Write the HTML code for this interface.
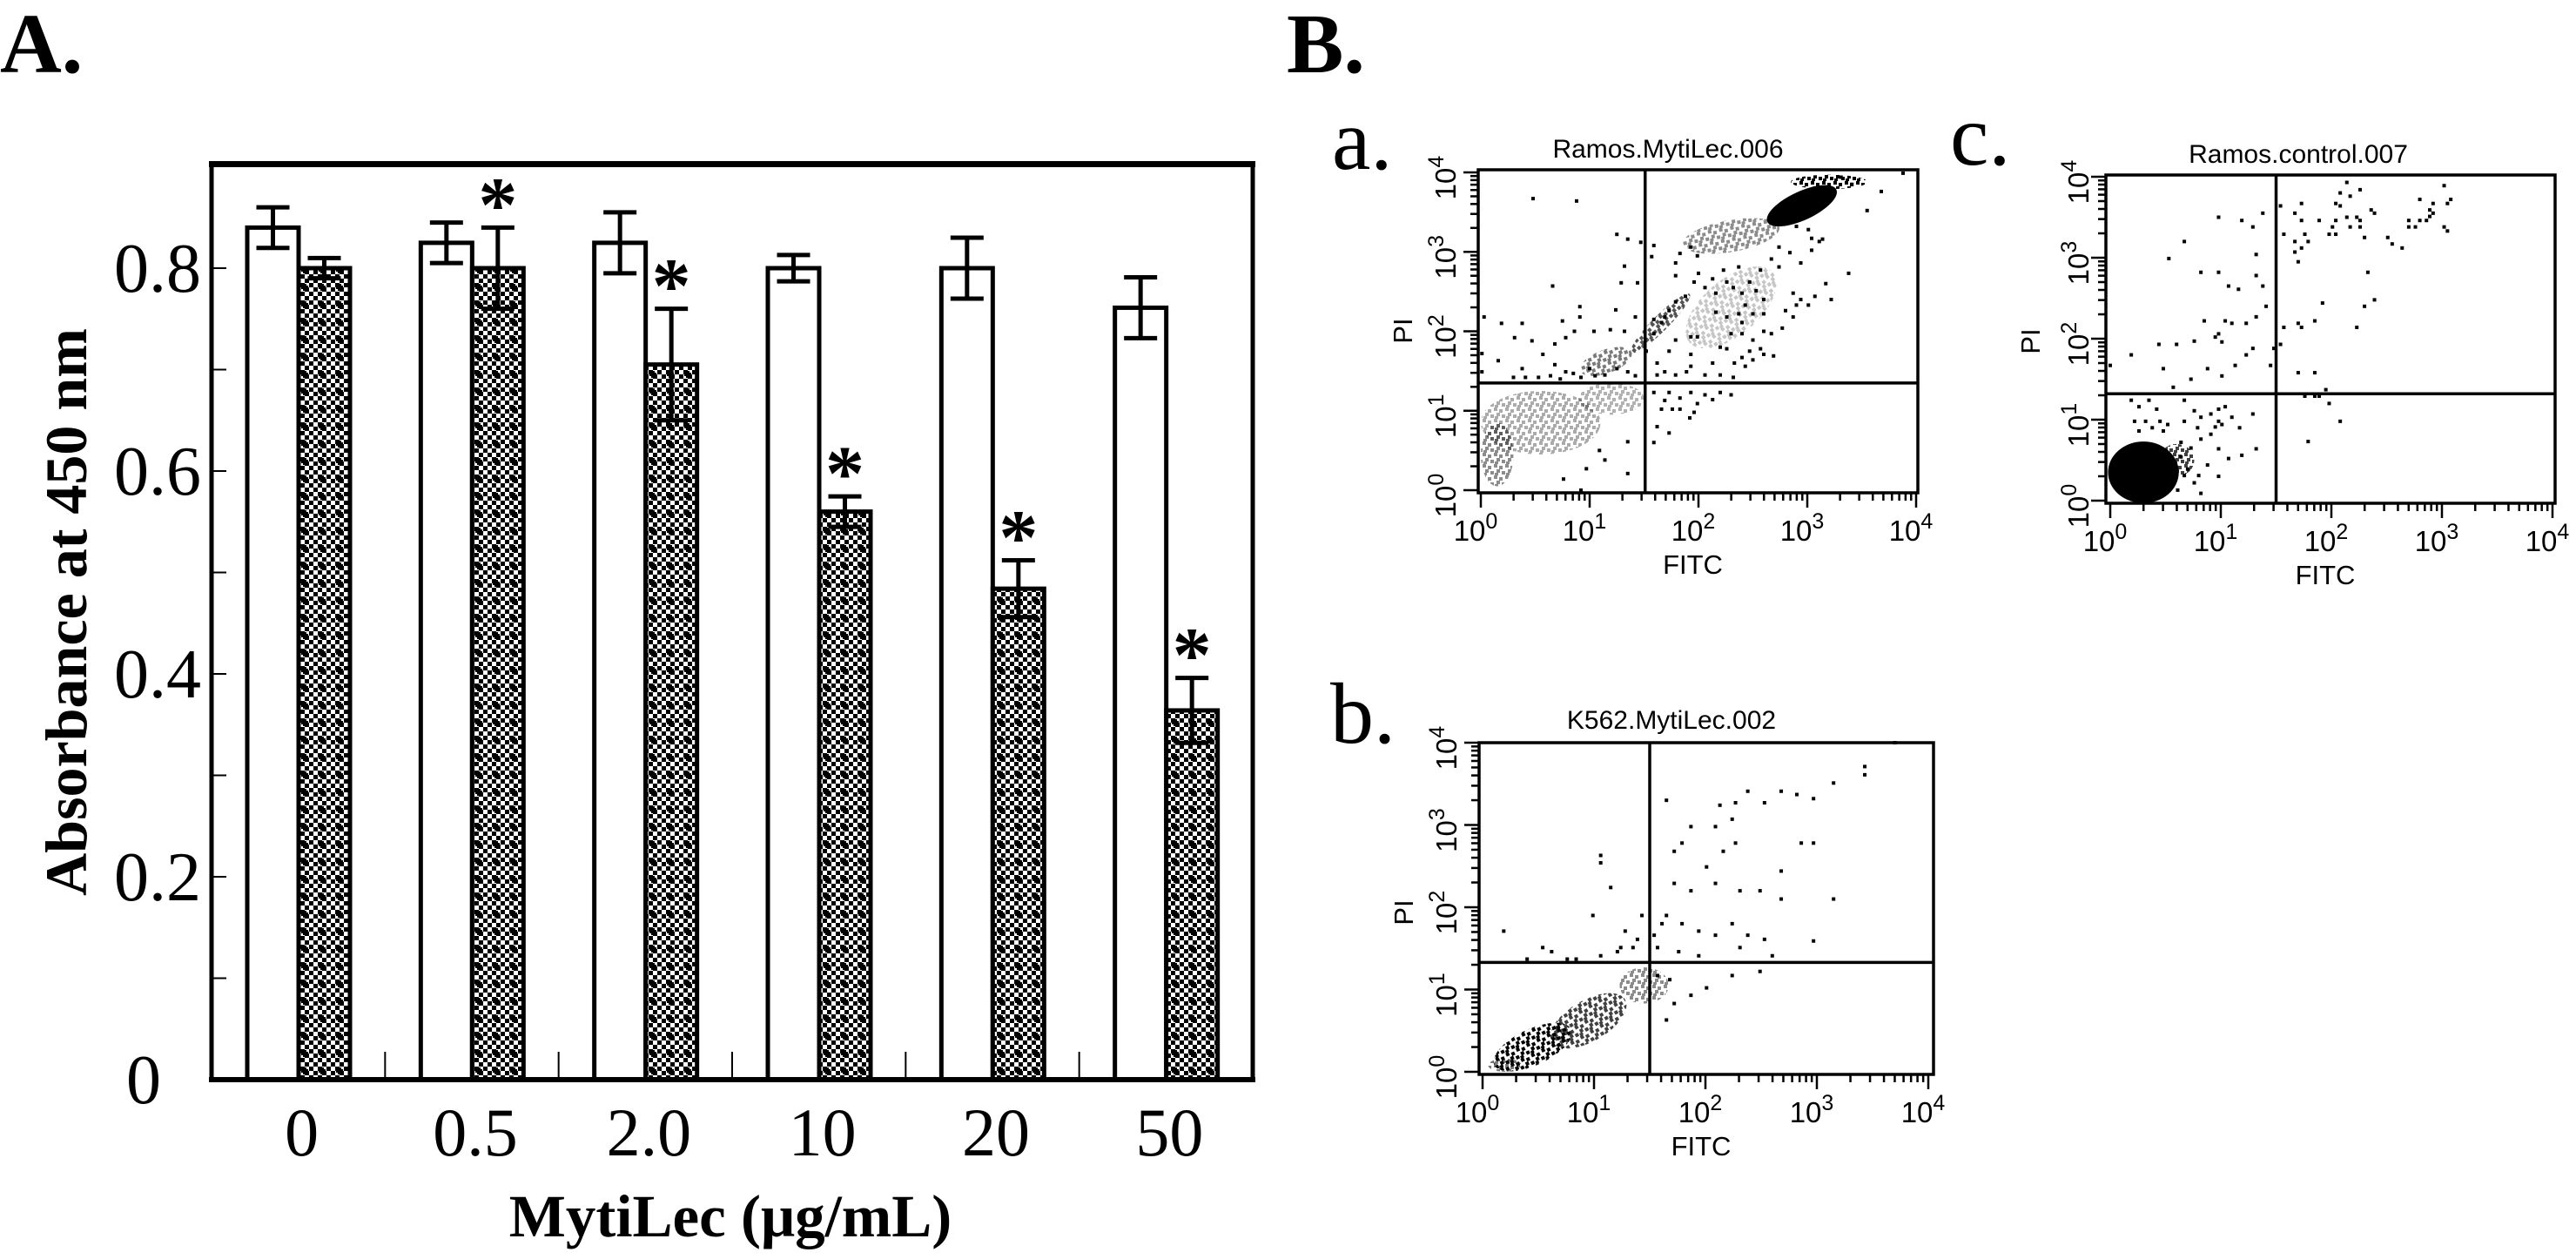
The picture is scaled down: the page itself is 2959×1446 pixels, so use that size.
<!DOCTYPE html>
<html><head><meta charset="utf-8">
<style>
html,body{margin:0;padding:0;background:#fff;}
svg{display:block;}
</style></head>
<body>
<svg id="fig" width="2959" height="1446" viewBox="0 0 2959 1446" xmlns="http://www.w3.org/2000/svg">
<defs>
<pattern id="hatch" width="20" height="20" patternUnits="userSpaceOnUse">
<rect width="20" height="20" fill="#fff"/>
<rect x="0" y="0" width="5" height="5" fill="#000"/><rect x="10" y="0" width="5" height="5" fill="#000"/>
<rect x="5" y="5" width="5" height="5" fill="#000"/><rect x="15" y="5" width="5" height="5" fill="#000"/>
<rect x="0" y="10" width="5" height="5" fill="#000"/><rect x="10" y="10" width="5" height="5" fill="#000"/>
<rect x="5" y="15" width="5" height="5" fill="#000"/><rect x="15" y="15" width="5" height="5" fill="#000"/>
<rect x="8" y="6" width="4" height="8" fill="#000"/><rect x="6" y="8" width="8" height="4" fill="#000"/>
</pattern>
<pattern id="speck" width="13" height="13" patternUnits="userSpaceOnUse">
<rect x="0" y="0" width="4" height="4" fill="#000"/><rect x="6" y="2" width="4" height="4" fill="#000"/>
<rect x="3" y="6" width="4" height="4" fill="#000"/><rect x="9" y="8" width="4" height="4" fill="#000"/>
<rect x="1" y="10" width="4" height="3" fill="#000"/>
</pattern>
</defs>
<text x="0" y="83" font-family="Liberation Serif, serif" font-weight="bold" font-size="98">A.</text>
<text x="1478" y="83" font-family="Liberation Serif, serif" font-weight="bold" font-size="98">B.</text>
<g id="barchart"></g>
<g id="flowA"></g>
<g id="flowB"></g>
<g id="flowC"></g>
</svg>
<script>
// ---- Bar chart data ----
const categories = ["0","0.5","2.0","10","20","50"];
const controlValues = [0.84,0.825,0.825,0.80,0.80,0.761];
const controlErrors = [0.02,0.02,0.03,0.013,0.03,0.03];
const treatedValues = [0.80,0.80,0.705,0.56,0.484,0.364];
const treatedErrors = [0.01,0.04,0.055,0.015,0.028,0.032];
const significant = [false,true,true,true,true,true];
const yTickValues = [0,0.2,0.4,0.6,0.8];
const yTickLabels = ["0","0.2","0.4","0.6","0.8"];

// ---- Flow cytometry data (log10 FITC, log10 PI) ----
const aPoints = [[0.48,3.67],[0.88,3.64],[1.25,3.22],[1.35,3.16],[1.47,3.12],[1.32,2.82],[1.29,2.61],[1.44,2.61],[0.66,2.57],[0.91,2.31],[1.24,2.27],[0.03,2.18],[0.19,2.10],[0.38,2.10],[0.75,2.13],[0.91,2.18],[1.42,2.18],[0.31,1.92],[0.47,1.88],[0.68,1.84],[0.78,1.92],[0.86,2.0],[1.04,2.0],[1.19,2.02],[1.32,2.0],[0.57,1.71],[0.16,1.63],[0.01,1.72],[0.01,1.49],[0.38,1.53],[0.68,1.58],[0.78,1.49],[0.30,1.42],[0.41,1.42],[0.53,1.42],[0.64,1.44],[0.73,1.40],[0.85,1.47],[0.92,1.42],[1.0,1.53],[1.05,1.44],[1.14,1.45],[1.25,1.53],[1.35,1.49],[1.42,1.44],
[1.52,1.75],[1.59,1.97],[1.66,2.11],[1.73,2.26],[1.79,2.37],[1.88,2.44],[1.59,2.15],[1.69,2.18],
[1.59,3.08],[1.57,2.94],[1.79,2.70],[1.79,2.86],[1.83,2.98],[1.93,3.06],[1.99,2.95],[2.0,2.73],[1.96,2.62],[2.06,2.55],[2.13,2.66],[2.16,2.48],[2.23,2.77],[2.26,2.62],[2.32,2.55],[2.37,2.81],[2.40,2.48],[2.43,2.33],[2.47,2.62],[2.53,2.51],[2.60,2.40],[2.57,2.77],[2.67,2.91],[2.74,2.81],[2.84,2.99],[2.94,2.86],[3.04,3.02],[3.14,3.16],[2.74,3.06],[3.17,2.60],[3.22,2.40],[3.07,2.44],[2.87,2.48],[2.90,2.33],[2.80,2.26],[2.87,2.18],[2.77,2.04],[2.67,1.97],[2.60,2.0],[2.57,1.78],[2.50,1.89],[2.47,1.75],[2.40,1.67],[2.33,1.60],[2.43,1.56],[2.50,1.64],[2.60,1.71],[2.69,1.69],[2.26,1.78],[2.20,1.80],[2.30,1.97],[2.40,1.97],[2.40,2.11],[2.26,2.18],[2.16,2.24],[2.37,2.22],[2.50,2.22],[2.60,2.22],[2.13,1.60],[2.20,1.45],[2.06,1.45],[1.93,1.56],[1.93,1.71],[1.99,1.93],[1.93,1.93],[1.79,1.89],[1.73,1.75],[1.62,1.60],[1.69,1.49],[1.79,1.45],[1.89,1.49],[1.62,1.45],[2.32,1.42],[2.94,2.40],[3.01,2.33],[3.38,2.73],[3.55,3.52],[3.68,3.76],[3.88,3.99],[3.31,3.94],[3.41,3.85],[3.04,3.17],[3.11,3.13],[3.01,3.28],[2.90,3.32],
[1.59,1.23],[1.69,1.13],[1.73,1.23],[1.83,1.16],[1.93,1.23],[1.99,1.09],[2.06,1.20],[2.20,1.23],[2.30,1.20],[1.92,0.91],[1.73,0.72],[1.62,0.80],[1.59,0.60],[1.76,1.02],[1.66,1.02],[1.83,1.02],[2.13,1.14],[1.96,0.98],
[0.97,0.27],[1.35,0.21],[0.76,0.14],[1.14,0.38],[0.92,0.0],[1.35,0.61],[1.09,0.50]];
const aDense = [[2.95,3.58,0.35,0.18,-25,0.85],[3.2,3.88,0.35,0.09,0,0.7],[2.3,3.2,0.45,0.2,-10,0.3],[1.65,2.1,0.38,0.1,-45,0.45],[1.15,1.62,0.25,0.15,-20,0.35],[2.3,2.3,0.5,0.35,-40,0.15],[0.55,0.85,0.55,0.4,0,0.22],[0.15,0.45,0.15,0.4,0,0.3],[1.2,1.15,0.3,0.2,0,0.2]];

const bPoints = [[3.7,4.0],[3.43,3.71],[3.43,3.61],[3.15,3.51],[2.97,3.32],[2.82,3.37],[2.68,3.41],[2.53,3.27],[2.38,3.41],[2.27,3.27],[2.13,3.24],[2.24,3.07],[2.09,2.98],[1.87,2.98],[1.65,3.30],[1.79,2.78],[2.16,2.68],[2.01,2.49],[2.27,2.78],[2.86,2.78],[2.97,2.78],[2.68,2.44],[2.49,2.20],[2.68,2.10],[3.15,2.10],[2.31,2.20],[2.09,2.29],[1.87,2.20],[1.72,2.29],[1.65,1.90],[1.79,1.80],[1.94,1.71],[2.09,1.66],[2.24,1.80],[2.38,1.66],[2.53,1.61],[2.31,1.51],[2.97,1.59],[1.72,2.68],[1.61,1.80],[1.54,1.66],[1.57,1.51],[1.76,1.46],[1.94,1.41],[2.60,1.41],[2.49,1.22],[2.24,1.17],[2.01,1.02],[1.72,0.83],[1.65,0.63],[1.87,0.93],[1.57,1.17],[1.68,1.12],
[1.06,2.63],[1.06,2.54],[1.15,2.24],[0.19,1.71],[1.28,1.71],[1.35,1.51],[1.21,1.46],[0.54,1.51],[0.62,1.46],[0.99,1.90],[1.43,1.90],[1.39,1.61],[1.24,1.51],[0.76,1.37],[0.40,1.37],[0.84,1.37],[1.06,1.41]];
const bDense = [[0.45,0.3,0.38,0.22,-25,0.7],[0.95,0.62,0.38,0.25,-30,0.5],[1.45,1.05,0.22,0.22,0,0.3],[0.2,0.08,0.15,0.08,0,0.35]];

const cPoints = [[0.98,3.50],[1.19,3.46],[1.29,3.38],[1.38,3.55],[0.67,3.20],[0.53,2.99],[1.32,3.04],[0.82,2.82],[0.98,2.82],[1.32,2.78],[1.07,2.65],[1.16,2.61],[1.38,2.65],[1.41,2.40],[1.32,2.27],[0.85,2.22],[1.04,2.22],[1.10,2.19],[1.23,2.19],[0.95,2.02],[0.98,2.06],[1.01,1.96],[0.76,1.97],[0.60,1.93],[0.44,1.93],[0.19,1.80],[1.23,1.80],[1.29,1.88],[1.48,1.88],[0.48,1.63],[0.88,1.63],[1.13,1.67],[1.45,1.67],[1.01,1.54],[0.73,1.50],[0.57,1.40],[0.00,1.67],
[1.54,3.64],[1.73,3.67],[1.67,3.55],[1.73,3.46],[1.89,3.46],[1.57,3.29],[1.76,3.29],[1.67,3.20],[1.79,3.20],[1.73,3.12],[1.67,3.07],[1.70,2.95],[2.04,3.67],[2.08,3.80],[2.14,3.93],[2.17,3.76],[2.26,3.84],[2.08,3.64],[2.04,3.46],[2.01,3.38],[1.98,3.29],[2.04,3.29],[2.14,3.50],[2.17,3.38],[2.23,3.50],[2.26,3.46],[2.26,3.38],[2.30,3.25],[2.36,3.59],[2.39,3.55],[2.51,3.25],[2.55,3.17],[2.64,3.12],[2.70,3.46],[2.70,3.38],[2.76,3.38],[2.80,3.46],[2.80,3.72],[2.86,3.46],[2.89,3.51],[2.89,3.59],[2.92,3.67],[2.92,3.55],[3.02,3.89],[3.05,3.67],[3.08,3.72],[3.02,3.38],[3.05,3.33],[2.33,2.82],[2.39,2.48],[2.30,2.40],[1.92,2.44],[1.85,2.22],[1.70,2.19],[1.73,2.14],[1.57,2.14],[2.23,2.14],[1.54,1.93],[1.70,1.58],[1.85,1.58],[1.95,1.37],[1.76,1.29],[1.85,1.29],[1.89,1.29],[1.98,1.20],[2.08,0.98],[1.79,0.73],
[0.19,1.24],[0.26,1.16],[0.35,1.24],[0.42,1.13],[0.67,1.24],[0.76,1.11],[0.82,1.03],[0.91,1.07],[0.98,1.13],[1.04,1.16],[1.10,1.03],[1.29,1.07],[0.22,0.98],[0.32,0.98],[0.45,0.98],[0.52,0.94],[0.67,0.98],[0.98,0.98],[1.01,0.94],[0.95,0.91],[1.17,0.90],[0.26,0.86],[0.38,0.90],[0.48,0.86],[0.79,0.90],[0.91,0.82],[0.98,0.64],[1.07,0.52],[1.19,0.56],[1.32,0.64],[0.98,0.30],[0.82,0.09],[0.38,0.04],
[0.64,0.72],[0.73,0.65],[0.82,0.76],[0.88,0.44],[0.67,0.31],[0.76,0.22],[0.61,0.13],[0.70,0.39],[0.80,0.31],[0.64,0.54]];
const cDense = [[0.3,0.35,0.32,0.38,0,0.95],[0.6,0.5,0.16,0.2,0,0.5]];

const xTickExps = [0,1,2,3,4];
const yTickExps = [0,1,2,3,4];

const NS = "http://www.w3.org/2000/svg";
function mk(tag, attrs, parent){
  const e = document.createElementNS(NS, tag);
  for (const k in attrs) e.setAttribute(k, attrs[k]);
  parent.appendChild(e);
  return e;
}

// ---------- Bar chart ----------
(function(){
  const g = document.getElementById('barchart');
  const L = 243, R = 1439, B = 1240, perUnit = 1165;
  const yScale = v => B - v * perUnit;
  const groupW = (R - L) / categories.length;
  const gx = i => L + i * groupW;
  const barW = 59;

  for (let k = 1; k <= 8; k++) {
    const t = mk('line', {x1: L, x2: L + 17, y1: yScale(k / 10), y2: yScale(k / 10), stroke: '#000', 'stroke-width': 2}, g);
    
    
  }
  for (let i = 1; i < categories.length; i++) {
    const t = mk('line', {x1: gx(i), x2: gx(i), y1: B, y2: B - 32, stroke: '#000', 'stroke-width': 2}, g);
    
    
  }
  yTickValues.forEach((v, i) => {
    const isZero = v === 0;
    const t = mk('text', {x: isZero ? 165 : 231, y: yScale(v) + 27, 'text-anchor': isZero ? 'middle' : 'end', 'font-family': 'Liberation Serif, serif', 'font-size': 80}, g);
    t.textContent = yTickLabels[i];
    
    
  });

  categories.forEach((c, i) => {
    const x0 = gx(i) + 41;
    const wTop = yScale(controlValues[i]);
    const wb = mk('rect', {x: x0, y: wTop, width: barW, height: B - wTop, fill: '#fff', stroke: '#000', 'stroke-width': 5}, g);
    
    
    const hTop = yScale(treatedValues[i]);
    const hb = mk('rect', {x: x0 + barW, y: hTop, width: barW, height: B - hTop, fill: 'url(#hatch)', stroke: '#000', 'stroke-width': 5}, g);
    
    
    [[x0 + barW / 2, controlValues[i], controlErrors[i], 'control'], [x0 + barW * 1.5, treatedValues[i], treatedErrors[i], 'mytilec']].forEach(([cx, v, e, nm]) => {
      const eg = mk('g', {stroke: '#000', 'stroke-width': 5}, g);
      
      
      mk('line', {x1: cx, x2: cx, y1: yScale(v + e), y2: yScale(v - e)}, eg);
      mk('line', {x1: cx - 19, x2: cx + 19, y1: yScale(v + e), y2: yScale(v + e)}, eg);
      mk('line', {x1: cx - 19, x2: cx + 19, y1: yScale(v - e), y2: yScale(v - e)}, eg);
    });
    if (significant[i]) {
      const s = mk('text', {x: x0 + barW * 1.5, y: yScale(treatedValues[i] + treatedErrors[i]) + 4, 'text-anchor': 'middle', 'font-family': 'Liberation Serif, serif', 'font-weight': 'bold', 'font-size': 90}, g);
      s.textContent = '*';
      
      
    }
    const xl = mk('text', {x: gx(i) + groupW / 2 + 4, y: 1327, 'text-anchor': 'middle', 'font-family': 'Liberation Serif, serif', 'font-size': 78}, g);
    xl.textContent = c;
    
    
  });

  const fr = mk('g', {stroke: '#000', fill: 'none'}, g);
  
  
  mk('line', {x1: 240, x2: 1442, y1: 188.5, y2: 188.5, 'stroke-width': 7}, fr);
  mk('line', {x1: 240, x2: 1442, y1: 1240, y2: 1240, 'stroke-width': 6}, fr);
  mk('line', {x1: 243, x2: 243, y1: 186, y2: 1243, 'stroke-width': 5}, fr);
  mk('line', {x1: 1439, x2: 1439, y1: 186, y2: 1243, 'stroke-width': 5}, fr);

  const yt = mk('text', {x: 0, y: 0, transform: 'translate(99,703) rotate(-90)', 'text-anchor': 'middle', 'font-family': 'Liberation Serif, serif', 'font-weight': 'bold', 'font-size': 68}, g);
  yt.textContent = 'Absorbance at 450 nm';
  
  
  const xt = mk('text', {x: 839, y: 1420, 'text-anchor': 'middle', 'font-family': 'Liberation Serif, serif', 'font-weight': 'bold', 'font-size': 69}, g);
  xt.textContent = 'MytiLec (\u03bcg/mL)';
  
  
})();

// ---------- Flow plots ----------
function flowPlot(id, cfg, points, dense) {
  const g = document.getElementById(id);
  const sx = v => cfg.x0 + v * cfg.xd;
  const sy = v => cfg.y0 - v * cfg.yd;
  const [bl, bt, br, bb] = cfg.box;

  dense.forEach(d => {
    const op = Math.min(1, d[5] * 1.5);
    const fill = d[5] > 0.8 ? '#000' : 'url(#speck)';
    const e = mk('ellipse', {cx: sx(d[0]), cy: sy(d[1]), rx: d[2] * cfg.xd, ry: d[3] * cfg.yd, fill: fill, 'fill-opacity': op, transform: 'rotate(' + d[4] + ' ' + sx(d[0]) + ' ' + sy(d[1]) + ')'}, g);
    
    
  });
  points.forEach(p => {
    const r = mk('rect', {x: sx(p[0]) - 2, y: sy(p[1]) - 2, width: 4, height: 4, fill: '#000'}, g);
    
    
  });

  const fr = mk('rect', {x: bl, y: bt, width: br - bl, height: bb - bt, fill: 'none', stroke: '#000', 'stroke-width': 3.5}, g);
  
  

  const q1 = mk('line', {x1: sx(cfg.qx), x2: sx(cfg.qx), y1: bt, y2: bb, stroke: '#000', 'stroke-width': 3.5}, g);
  
  
  const q2 = mk('line', {x1: bl, x2: br, y1: sy(cfg.qy), y2: sy(cfg.qy), stroke: '#000', 'stroke-width': 3.5}, g);
  
  

  for (let d = 0; d < 4; d++) {
    for (let m = 1; m <= 9; m++) {
      const lv = d + Math.log10(m);
      const major = m === 1;
      const tx = mk('line', {x1: sx(lv), x2: sx(lv), y1: bb, y2: bb + (major ? 17 : 9), stroke: '#000', 'stroke-width': 2.5}, g);
      
      
      const ty = mk('line', {x1: bl, x2: bl - (major ? 17 : 9), y1: sy(lv), y2: sy(lv), stroke: '#000', 'stroke-width': 2.5}, g);
      
      
    }
  }
  const endX = mk('line', {x1: sx(4), x2: sx(4), y1: bb, y2: bb + 17, stroke: '#000', 'stroke-width': 2.5}, g);
  
  
  const endY = mk('line', {x1: bl, x2: bl - 17, y1: sy(4), y2: sy(4), stroke: '#000', 'stroke-width': 2.5}, g);
  
  

  xTickExps.forEach(e => {
    const t = mk('text', {x: sx(e) - 6, y: bb + 55, 'text-anchor': 'middle', 'font-family': 'Liberation Sans, sans-serif', 'font-size': 33}, g);
    
    
    t.textContent = '10';
    const s = mk('tspan', {'font-size': 25, dy: -14}, t);
    s.textContent = String(e);
  });
  yTickExps.forEach(e => {
    const t = mk('text', {x: 0, y: 0, transform: 'translate(' + (bl - cfg.ylab) + ',' + (sy(e) + 6) + ') rotate(-90)', 'text-anchor': 'middle', 'font-family': 'Liberation Sans, sans-serif', 'font-size': 33}, g);
    
    
    t.textContent = '10';
    const s = mk('tspan', {'font-size': 25, dy: -14}, t);
    s.textContent = String(e);
  });

  const ft = mk('text', {x: (bl + br) / 2 - 6, y: bb + 93, 'text-anchor': 'middle', 'font-family': 'Liberation Sans, sans-serif', 'font-size': 31}, g);
  ft.textContent = 'FITC';
  
  
  const pt = mk('text', {x: 0, y: 0, transform: 'translate(' + (bl - 76) + ',' + cfg.piY + ') rotate(-90)', 'text-anchor': 'middle', 'font-family': 'Liberation Sans, sans-serif', 'font-size': 31}, g);
  pt.textContent = 'PI';
  
  
  const tt = mk('text', {x: cfg.titleX, y: cfg.titleY, 'text-anchor': 'middle', 'font-family': 'Liberation Sans, sans-serif', 'font-size': 30}, g);
  tt.textContent = cfg.title;
  
  
  const lt = mk('text', {x: cfg.letterX, y: cfg.letterY, 'font-family': 'Liberation Serif, serif', 'font-size': 100}, g);
  lt.textContent = cfg.letter;
  
  
}

flowPlot('flowA', {x0: 1701, xd: 125, y0: 563, yd: 91.25, box: [1698, 195, 2203, 566], qx: 1.51, qy: 1.35, ylab: 26, piY: 380, title: 'Ramos.MytiLec.006', titleX: 1916, titleY: 181, letter: 'a.', letterX: 1530, letterY: 194}, aPoints, aDense);
flowPlot('flowB', {x0: 1703, xd: 128, y0: 1231, yd: 94.5, box: [1699, 853, 2221, 1234], qx: 1.5, qy: 1.33, ylab: 26, piY: 1048, title: 'K562.MytiLec.002', titleX: 1920, titleY: 837, letter: 'b.', letterX: 1528, letterY: 853}, bPoints, bDense);
flowPlot('flowC', {x0: 2424, xd: 127, y0: 575, yd: 93, box: [2419, 201, 2935, 578], qx: 1.5, qy: 1.32, ylab: 20, piY: 392, title: 'Ramos.control.007', titleX: 2640, titleY: 187, letter: 'c.', letterX: 2240, letterY: 189}, cPoints, cDense);
</script>
</body></html>
